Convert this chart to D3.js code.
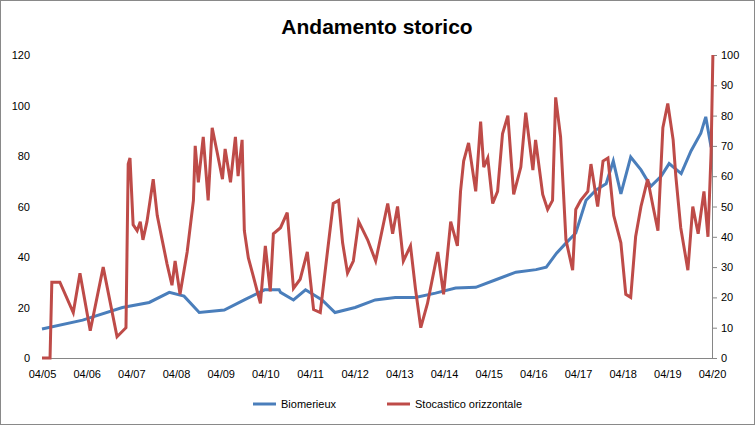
<!DOCTYPE html>
<html><head><meta charset="utf-8">
<script src="https://cdn.jsdelivr.net/npm/d3@7"></script>
<style>body{margin:0;background:#fff}text{font-family:"Liberation Sans",Arial,sans-serif}</style>
</head><body><svg id="chart" width="755" height="425"></svg>
<script>
const tickYears = d3.range(2005, 2021);
const bioT = [2005.25,2006.16,2007.05,2007.65,2008.10,2008.43,2008.77,2009.33,2009.78,2010.23,2010.56,2010.59,2010.88,2011.15,2011.52,2011.81,2012.26,2012.71,2013.16,2013.61,2014.06,2014.51,2014.96,2015.41,2015.86,2016.31,2016.54,2016.77,2016.98,2017.20,2017.43,2017.65,2017.88,2018.04,2018.21,2018.43,2018.66,2018.88,2019.11,2019.29,2019.56,2019.78,2020.00,2020.11,2020.23];
const bioV = [11.5,15,20,22,26,24.5,18,19,23,27,27,26,23,27,23,18,20,23,24,24,25.7,27.7,28,31,34,35,36,41.5,45.5,49.5,62.5,66.5,69,78,65,79.6,74.5,68,72,77,73,82,89,95.5,83.5];
const stoT = [2005.25,2005.43,2005.47,2005.65,2005.95,2006.10,2006.33,2006.62,2006.93,2007.13,
  2007.18,2007.22,2007.29,2007.38,2007.45,2007.51,2007.60,2007.67,2007.74,2007.83,2007.94,2008.05,2008.16,2008.23,2008.34,2008.50,2008.64,2008.68,2008.75,2008.86,2008.97,2009.06,2009.17,2009.29,2009.35,2009.47,2009.58,2009.64,2009.73,2009.78,2009.87,2009.98,2010.14,
  2010.25,2010.36,2010.43,2010.59,2010.74,2010.88,2011.03,2011.19,2011.33,2011.48,2011.64,2011.77,2011.89,2011.98,2012.09,2012.22,2012.34,2012.54,2012.72,2012.99,2013.10,2013.21,2013.34,2013.50,2013.61,2013.73,2013.88,2014.11,2014.24,2014.40,2014.55,2014.62,2014.69,2014.80,2014.96,2015.07,2015.14,2015.23,2015.34,2015.45,2015.56,2015.68,2015.81,2015.97,2016.08,2016.24,2016.30,2016.46,2016.57,2016.68,2016.75,2016.86,2016.98,2017.13,2017.20,2017.31,2017.47,2017.54,2017.69,2017.81,2017.92,2018.05,2018.21,2018.32,2018.43,2018.54,2018.66,2018.81,2018.93,2019.04,2019.15,2019.26,2019.38,2019.44,2019.55,2019.71,2019.82,2019.94,2020.07,2020.16,2020.23,2020.27];
const stoV = [0,0,25,25,15,28,9,30,7,10,
  64,66,44,42,45,39,45,52,59,47,39,31,24,32,21,35,52,70,58,73,52,76,68,59,69,58,73,60,72,42,33,27,18,
  37,22,41,43,48,23,26,35,16,15,35,51,52,38,28,32,45,39,32,51,41,50,32,37,23,10,18,35,21,45,37,55,65,71,55,78,63,66,51,55,74,80,54,63,81,62,72,54,49,52,86,73,39,29,49,52,55,64,50,65,66,47,38,21,20,40,50,59,50,42,76,84,72,60,43,29,50,41,55,40,68,100];

const svg = d3.select("#chart");
svg.append("rect").attr("x",0.5).attr("y",0.5).attr("width",754).attr("height",424)
  .attr("fill","#fff").attr("stroke","#898989");
svg.append("text").attr("x",377).attr("y",34).attr("text-anchor","middle")
  .style("font-size","21px").style("font-weight","bold").text("Andamento storico");

const m = {l:42, r:712, t:55, b:358};
const x = d3.scaleLinear().domain([2005.25,2020.25]).range([m.l,m.r]);
const yL = d3.scaleLinear().domain([0,120]).range([m.b,m.t]);
const yR = d3.scaleLinear().domain([0,100]).range([m.b,m.t]);

svg.append("g").attr("transform",`translate(0,${m.b})`)
  .call(d3.axisBottom(x).tickValues(tickYears.map(d=>d+0.25)).tickSize(0).tickPadding(12)
    .tickFormat(d=>"04/"+String(Math.floor(d)%100).padStart(2,"0")))
  .call(g=>{g.select(".domain").attr("stroke","#868686");g.selectAll("text").style("font-size","11px").attr("fill","#000");});
svg.append("g").attr("transform",`translate(${m.l-10},0)`)
  .call(d3.axisLeft(yL).ticks(6).tickSize(0).tickPadding(2))
  .call(g=>{g.select(".domain").remove();g.selectAll("text").style("font-size","11px").attr("fill","#000");});
svg.append("g").attr("transform",`translate(${m.r},0)`)
  .call(d3.axisRight(yR).ticks(10).tickSize(5).tickSizeOuter(0).tickPadding(4))
  .call(g=>{g.select(".domain").attr("stroke","#868686");g.selectAll("line").attr("stroke","#868686");g.selectAll("text").style("font-size","11px").attr("fill","#000");});

const lineB = d3.line().x((d,i)=>x(bioT[i])).y(d=>yL(d));
const lineS = d3.line().x((d,i)=>x(stoT[i])).y(d=>yR(d));
svg.append("path").datum(bioV).attr("d",lineB).attr("fill","none").attr("stroke","#4a7ebb").attr("stroke-width",3);
svg.append("path").datum(stoV).attr("d",lineS).attr("fill","none").attr("stroke","#be4b48").attr("stroke-width",3);

const legend = [["Biomerieux","#4a7ebb",253],["Stocastico orizzontale","#be4b48",387]];
legend.forEach(([t,c,lx])=>{
  svg.append("line").attr("x1",lx).attr("x2",lx+23).attr("y1",404).attr("y2",404).attr("stroke",c).attr("stroke-width",3);
  svg.append("text").attr("x",lx+28).attr("y",408).style("font-size","11px").text(t);
});
</script></body></html>
